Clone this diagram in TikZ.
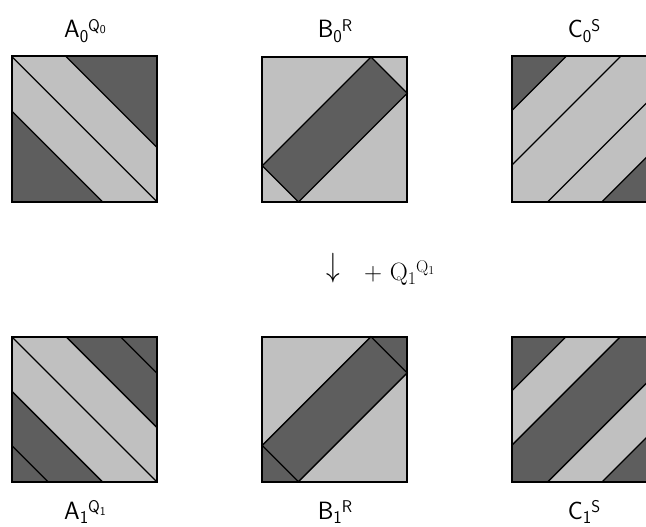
\documentclass[tikz,border=0pt]{standalone}
\usepackage{fontspec}
\usepackage{graphicx}
\definecolor{darkg}{RGB}{94,94,94}
\definecolor{lightg}{RGB}{192,192,192}
% label pieces
\newcommand\lsub[1]{\raisebox{-4.5pt}{\fontsize{18}{18}\selectfont #1}}
\newcommand\lsup[1]{\raisebox{6.5pt}{\fontsize{17}{17}\selectfont #1}}
\newcommand\lsubsub[1]{\raisebox{-2.5pt}{\fontsize{12}{12}\selectfont #1}}
\newcommand\msub[1]{\raisebox{-4.5pt}{\fontsize{18}{18}\selectfont #1}}
\newcommand\msup[1]{\raisebox{8pt}{\fontsize{17}{17}\selectfont #1}}
\begin{document}
\begin{tikzpicture}[x=1pt,y=-1pt,
  darkfill/.style={fill=darkg},
  lightfill/.style={fill=lightg},
  stripe/.style={draw=black,line width=1.3pt},
  frame/.style={draw=black,line width=2pt},
  lbl/.style={anchor=base,inner sep=0pt,font=\fontsize{25}{29}\selectfont\sffamily},
  mlbl/.style={anchor=base,inner sep=0pt,font=\fontsize{25}{29}\selectfont\rmfamily}]
\path[use as bounding box] (0,0) rectangle (646,527);
\clip (0,0) rectangle (646,527);

% ---------- A0 ----------
\begin{scope}[shift={(11.7,201.5)},x=145pt,y=145pt]
  \path[lightfill] (0,0) rectangle (1,1);
  \path[darkfill] (0,0) -- (0.625,0) -- (0,0.625) -- cycle;
  \path[darkfill] (1,1) -- (0.375,1) -- (1,0.375) -- cycle;
  \draw[stripe] (0,0.625) -- (0.625,0) (0,1) -- (1,0) (0.375,1) -- (1,0.375);
  \draw[frame] (0,0) rectangle (1,1);
\end{scope}
% ---------- B0 ----------
\begin{scope}[shift={(262.2,202)},x=145pt,y=145pt]
  \path[lightfill] (0,0) rectangle (1,1);
  \path[darkfill] (0,0.25) -- (0.25,0) -- (1,0.75) -- (0.75,1) -- cycle;
  \draw[stripe] (0,0.25) -- (0.25,0) -- (1,0.75) -- (0.75,1) -- cycle;
  \draw[frame] (0,0) rectangle (1,1);
\end{scope}
% ---------- C0 ----------
\begin{scope}[shift={(511.7,201.5)},x=145pt,y=145pt]
  \path[lightfill] (0,0) rectangle (1,1);
  \path[darkfill] (0,0.625) -- (0,1) -- (0.375,1) -- cycle;
  \path[darkfill] (0.625,0) -- (1,0) -- (1,0.375) -- cycle;
  \draw[stripe] (0,0.625) -- (0.375,1) (0,0.25) -- (0.75,1)
                (0.25,0) -- (1,0.75) (0.625,0) -- (1,0.375);
  \draw[frame] (0,0) rectangle (1,1);
\end{scope}

% ---------- A1 ----------
\begin{scope}[shift={(11.7,481.7)},x=145pt,y=145pt]
  \path[lightfill] (0,0) rectangle (1,1);
  \path[darkfill] (0,0) -- (0.625,0) -- (0,0.625) -- cycle;
  \path[darkfill] (1,1) -- (0.375,1) -- (1,0.375) -- cycle;
  \draw[stripe] (0,0.25) -- (0.25,0) (0,0.625) -- (0.625,0) (0,1) -- (1,0)
                (0.375,1) -- (1,0.375) (0.75,1) -- (1,0.75);
  \draw[frame] (0,0) rectangle (1,1);
\end{scope}
% ---------- B1 ----------
\begin{scope}[shift={(262.2,481.7)},x=145pt,y=145pt]
  \path[lightfill] (0,0) rectangle (1,1);
  \path[darkfill] (0,0) -- (0.25,0) -- (0,0.25) -- cycle;
  \path[darkfill] (1,1) -- (0.75,1) -- (1,0.75) -- cycle;
  \path[darkfill] (0,0.25) -- (0.25,0) -- (1,0.75) -- (0.75,1) -- cycle;
  \draw[stripe] (0,0.25) -- (0.25,0) -- (1,0.75) -- (0.75,1) -- cycle;
  \draw[frame] (0,0) rectangle (1,1);
\end{scope}
% ---------- C1 ----------
\begin{scope}[shift={(511.7,481.7)},x=145pt,y=145pt]
  \path[lightfill] (0,0) rectangle (1,1);
  \path[darkfill] (0,0.625) -- (0,1) -- (0.375,1) -- cycle;
  \path[darkfill] (0.625,0) -- (1,0) -- (1,0.375) -- cycle;
  \path[darkfill] (0,0) -- (0.25,0) -- (1,0.75) -- (1,1) -- (0.75,1) -- (0,0.25) -- cycle;
  \draw[stripe] (0,0.625) -- (0.375,1) (0,0.25) -- (0.75,1)
                (0.25,0) -- (1,0.75) (0.625,0) -- (1,0.375);
  \draw[frame] (0,0) rectangle (1,1);
\end{scope}

% ---------- labels ----------
\node[lbl] (la0) at (85,38) {A\lsub{0}\lsup{Q\lsubsub{0}}};
\node[lbl] (lb0) at (335,38) {B\lsub{0}\lsup{R}};
\node[lbl] (lc0) at (584,38) {C\lsub{0}\lsup{S}};
\node[lbl] (la1) at (85,519) {A\lsub{1}\lsup{Q\lsubsub{1}}};
\node[lbl] (lb1) at (335,519) {B\lsub{1}\lsup{R}};
\node[lbl] (lc1) at (584,519) {C\lsub{1}\lsup{S}};

% ---------- middle ----------
\node[inner sep=0pt,font=\fontsize{25}{29}\selectfont] (arr) at (333,268)
  {\scalebox{1.1}[1.35]{$\downarrow$}};
\node[mlbl,anchor=base west] (plus) at (364,280) {+ Q\msub{1}\msup{Q\lsubsub{1}}};
\end{tikzpicture}
\end{document}
